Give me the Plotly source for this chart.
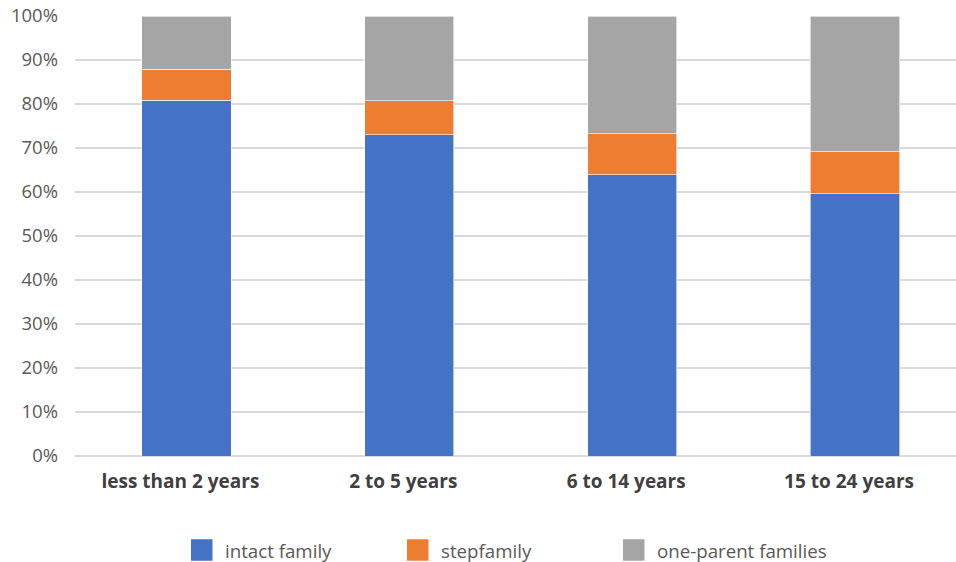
import plotly.graph_objects as go

# Share of children by family type, grouped by length of the parents' relationship
categories = ["less than 2 years", "2 to 5 years", "6 to 14 years", "15 to 24 years"]
intact_family = [0.808, 0.730, 0.639, 0.596]
stepfamily = [0.071, 0.077, 0.093, 0.096]
one_parent = [0.121, 0.193, 0.268, 0.308]

series = [
    ("intact family", intact_family, "#4472C4"),
    ("stepfamily", stepfamily, "#ED7D31"),
    ("one-parent families", one_parent, "#A5A5A5"),
]

FONT = "Open Sans, Lato, DejaVu Sans, sans-serif"
W, H = 956, 562
M_L, M_R, M_T, M_B = 75, 0, 16, 106
PLOT_W = W - M_L - M_R
PLOT_H = H - M_T - M_B


def px_to_paper(x_px, y_px):
    """Convert page pixel position into paper coordinates of the plot area."""
    return (x_px - M_L) / PLOT_W, (H - M_B - y_px) / PLOT_H


fig = go.Figure()
for name, values, color in series:
    fig.add_trace(go.Bar(
        x=categories,
        y=values,
        name=name,
        marker=dict(color=color, line=dict(color="white", width=0.6)),
        hovertemplate="%{x}<br>" + name + ": %{y:.0%}<extra></extra>",
        showlegend=False,
    ))

# Legend row below the axis: large colour squares followed by labels
LEG_X0, LEG_STEP, LEG_Y, SQ = 191, 216, 550, 21.5
for i, (name, _, color) in enumerate(series):
    x_left = LEG_X0 + i * LEG_STEP
    x0, y0 = px_to_paper(x_left, LEG_Y + SQ / 2)
    x1, y1 = px_to_paper(x_left + SQ, LEG_Y - SQ / 2)
    fig.add_shape(type="rect", xref="paper", yref="paper",
                  x0=x0, y0=y0, x1=x1, y1=y1,
                  fillcolor=color, line=dict(width=0))
    tx, ty = px_to_paper(x_left + SQ + 10, LEG_Y)
    fig.add_annotation(xref="paper", yref="paper", x=tx, y=ty,
                       text=name, showarrow=False,
                       xanchor="left", yanchor="middle",
                       font=dict(size=18.7, color="#595959", family=FONT))

fig.update_layout(
    barmode="stack",
    bargap=0.6,
    width=W,
    height=H,
    paper_bgcolor="white",
    plot_bgcolor="white",
    margin=dict(l=M_L, r=M_R, t=M_T, b=M_B),
    font=dict(family=FONT, size=18.5, color="#595959"),
    showlegend=False,
)

fig.update_xaxes(
    type="category",
    range=[-0.5, 3.453],
    showgrid=False,
    showline=False,
    ticks="",
    tickfont=dict(size=19, color="#404040", family=FONT, weight="bold"),
    ticklabelstandoff=12,
    ticklabelshift=-6,
)

fig.update_yaxes(
    range=[0, 1],
    tickvals=[i / 10 for i in range(11)],
    tickformat=".0%",
    showgrid=True,
    gridcolor="#D9D9D9",
    gridwidth=1.5,
    zeroline=True,
    zerolinecolor="#D9D9D9",
    zerolinewidth=2,
    showline=False,
    ticks="",
    ticklabelstandoff=16,
    tickfont=dict(size=18.5, color="#595959"),
)

fig.write_html("out.html")
